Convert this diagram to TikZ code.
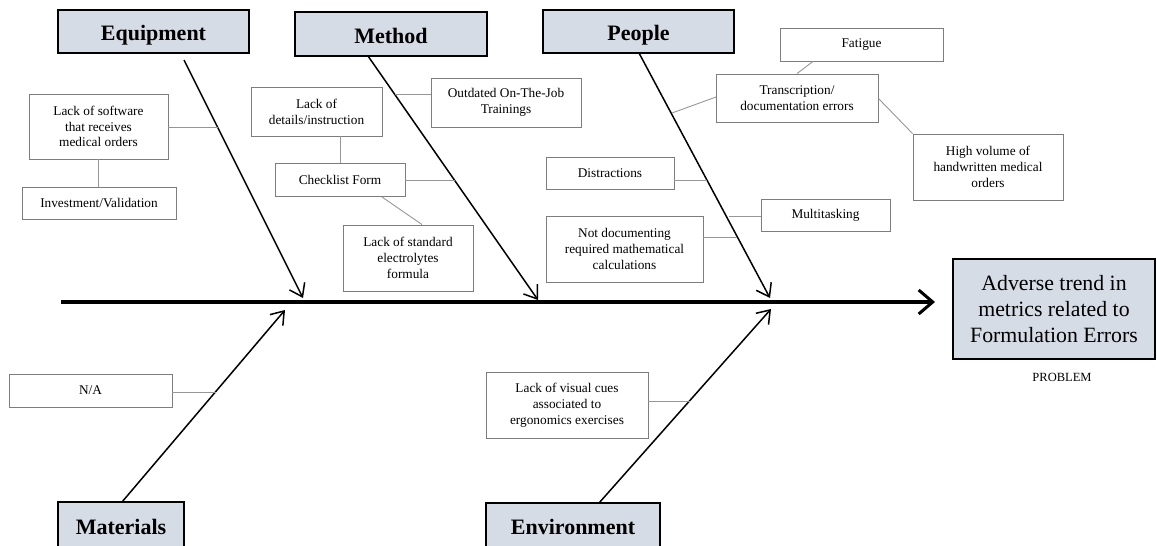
\documentclass[tikz,border=0pt]{standalone}
\usepackage{fontspec}
\setmainfont{Liberation Serif}
\usetikzlibrary{arrows.meta}
\definecolor{headfill}{RGB}{214,220,229}
\definecolor{boxgray}{RGB}{125,125,125}
\definecolor{linkgray}{RGB}{150,150,150}
\begin{document}
\begin{tikzpicture}[x=1pt,y=-1pt,
  head/.style={draw=black,line width=1.6pt,fill=headfill,inner sep=0pt,
    text height=19pt,text depth=1pt,
    font=\fontsize{22}{26}\selectfont\bfseries},
  cause/.style={draw=boxgray,line width=0.9pt,fill=white,inner sep=0pt,align=center,
    font=\fontsize{13.3}{15.8}\selectfont},
  link/.style={draw=linkgray,line width=0.9pt},
  bone/.style={draw=black,line width=1.5pt,-{Straight Barb[length=12pt,width=17pt]}},
  spinestyle/.style={draw=black,line width=3.5pt,-{Straight Barb[length=14pt,width=24pt,line width=3pt]}}]
\useasboundingbox (0,0) rectangle (1157,546);
\clip (0,0) rectangle (1157,546);

% heading boxes
\node[head,minimum width=191pt,minimum height=43pt] (equip) at (153.5,31.5) {Equipment};
\node[head,minimum width=192pt,minimum height=44pt] (method) at (391,34) {Method};
\node[head,minimum width=191pt,minimum height=43pt] (people) at (638.5,31.5) {People};
\node[head,minimum width=126pt,minimum height=46pt] (mater) at (121,525) {Materials};
\node[head,minimum width=174pt,minimum height=45pt] (env) at (573,525.5) {Environment};
\node[draw=black,line width=1.6pt,fill=headfill,inner sep=0pt,
  minimum width=202pt,minimum height=100pt,align=center,
  font=\fontsize{21.8}{26}\selectfont] (prob) at (1054,309)
  {Adverse trend in\\metrics related to\\Formulation Errors};
\node[inner sep=0pt,font=\fontsize{12.5}{14}\selectfont] (problbl) at (1062,377) {PROBLEM};

% bones
\coordinate (eqS) at (184,60);   \coordinate (eqT) at (303,298);
\coordinate (meS) at (368,56);   \coordinate (meT) at (538,300);
\coordinate (peS) at (639,53);   \coordinate (peT) at (770,298);
\coordinate (maS) at (122,502);  \coordinate (maT) at (285,310);
\coordinate (enS) at (599,503);  \coordinate (enT) at (771,309);
\coordinate (spS) at (61,302);   \coordinate (spT) at (935,302);

\draw[spinestyle] (spS) -- (spT);
\draw[bone] (eqS) -- (eqT);
\draw[bone] (meS) -- (meT);
\draw[bone] (peS) -- (peT);
\draw[bone] (maS) -- (maT);
\draw[bone] (enS) -- (enT);

% cause boxes
\node[cause,minimum width=139pt,minimum height=65pt] (softw) at (98.5,126.5) {Lack of software\\that receives\\medical orders};
\node[cause,minimum width=154pt,minimum height=32pt] (invest) at (99,203) {Investment/Validation};
\node[cause,minimum width=131pt,minimum height=49pt] (details) at (316.5,111.5) {Lack of\\details/instruction};
\node[cause,minimum width=130pt,minimum height=33pt] (check) at (340,179.5) {Checklist Form};
\node[cause,minimum width=130pt,minimum height=66pt] (stdform) at (408,258) {Lack of standard\\electrolytes\\formula};
\node[cause,minimum width=150pt,minimum height=49pt] (outdated) at (506,102.5) {Outdated On-The-Job\\Trainings};
\node[cause,minimum width=162pt,minimum height=48pt] (transc) at (797,98) {Transcription/\\documentation errors};
\node[cause,minimum width=163pt,minimum height=33pt] (fatigue) at (861.5,44.5) {Fatigue};
\node[cause,minimum width=150pt,minimum height=66pt] (highvol) at (988,167) {High volume of\\handwritten medical\\orders};
\node[cause,minimum width=128pt,minimum height=32pt] (distr) at (610,173) {Distractions};
\node[cause,minimum width=129pt,minimum height=32pt] (multi) at (825.5,215) {Multitasking};
\node[cause,minimum width=157pt,minimum height=66pt] (notdoc) at (624.5,249) {Not documenting\\required mathematical\\calculations};
\node[cause,minimum width=163pt,minimum height=33pt] (na) at (90.5,390.5) {N/A};
\node[cause,minimum width=162pt,minimum height=66pt] (visual) at (567,405) {Lack of visual cues\\associated to\\ergonomics exercises};

% attachment points on bones
\coordinate (aSoftw) at (218,127);
\coordinate (aCheck) at (455,180);
\coordinate (aOut) at (395,94);
\coordinate (aTransc) at (672,113);
\coordinate (aDistr) at (707,180);
\coordinate (aMulti) at (729,216);
\coordinate (aNotdoc) at (737,237);
\coordinate (aNa) at (216,392);
\coordinate (aVisual) at (690,401);

% links
\draw[link] (softw.east |- aSoftw) -- (aSoftw);
\draw[link] (softw.south -| 98,0) -- (invest.north -| 98,0);
\draw[link] (details.south -| 340,0) -- (check.north -| 340,0);
\draw[link] (check.east |- aCheck) -- (aCheck);
\draw[link] (382,197) -- (stdform.north -| 422,0);
\draw[link] (outdated.west |- aOut) -- (aOut);
\draw[link] (716,97) -- (aTransc);
\draw[link] (fatigue.south -| 813,0) -- (transc.north -| 797,0);
\draw[link] (878,98) -- (highvol.north west);
\draw[link] (distr.east |- aDistr) -- (aDistr);
\draw[link] (multi.west |- aMulti) -- (aMulti);
\draw[link] (notdoc.east |- aNotdoc) -- (aNotdoc);
\draw[link] (na.east |- aNa) -- (aNa);
\draw[link] (visual.east |- aVisual) -- (aVisual);
\end{tikzpicture}
\end{document}
